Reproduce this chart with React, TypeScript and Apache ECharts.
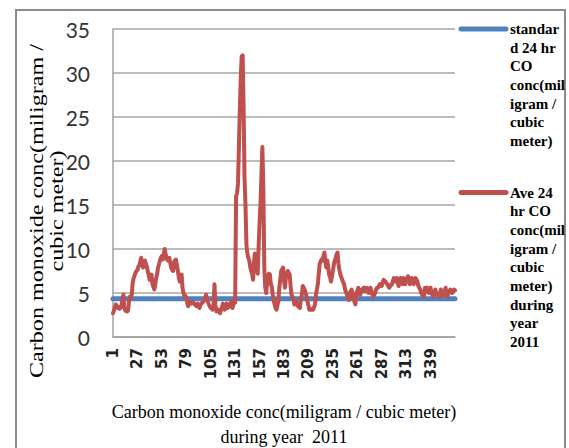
import React, { useEffect, useRef } from "react";
import * as echarts from "echarts";

const days: string[] = Array.from({ length: 365 }, (_, i) => String(i + 1));
const lastLabelIndex = 338;

const standardValue = 4.35;
const standardSeries: number[] = days.map(() => standardValue);

const aveSeries: number[] = [
  2.7, 3.0, 3.4, 3.7, 3.5, 3.3, 3.4, 3.2, 3.3, 3.6,
  4.2, 4.8, 3.4, 3.0, 3.1, 2.9, 3.0, 4.0, 4.6, 4.5,
  4.8, 6.2, 6.7, 7.0, 7.3, 7.5, 7.6, 8.0, 8.1, 8.6,
  9.0, 8.4, 7.9, 8.3, 8.7, 8.3, 8.0, 7.5, 7.0, 6.5,
  6.8, 7.1, 6.0, 5.7, 5.4, 6.0, 6.7, 7.2, 7.9, 8.3,
  8.7, 9.0, 9.2, 8.8, 9.4, 10.0, 9.4, 9.0, 8.7, 8.9,
  9.0, 8.4, 7.9, 7.6, 7.5, 8.5, 8.7, 8.8, 8.2, 7.5,
  6.8, 6.3, 6.9, 7.1, 5.6, 5.0, 4.6, 4.7, 4.4, 3.9,
  3.5, 4.0, 3.9, 3.8, 3.9, 4.0, 3.8, 3.7, 3.6, 3.5,
  3.8, 3.5, 3.3, 3.6, 3.8, 3.9, 4.0, 4.2, 4.4, 4.8,
  4.4, 4.0, 3.7, 3.5, 3.3, 3.4, 3.1, 3.5, 6.0, 3.7,
  2.9, 3.0, 3.1, 2.9, 2.7, 3.1, 3.4, 3.8, 3.4, 3.1,
  3.5, 3.8, 3.3, 3.4, 3.5, 3.8, 4.0, 3.3, 3.6, 4.2,
  3.9, 16.0, 16.3, 17.4, 21.5, 26.0, 29.5, 31.9, 32.0, 26.0,
  18.0, 15.0, 10.5, 9.5, 9.0, 8.7, 8.0, 7.5, 7.2, 6.5,
  8.5, 9.5, 8.8, 7.5, 7.2, 10.3, 13.0, 15.2, 18.5, 21.6,
  17.0, 8.0, 5.7, 5.0, 6.0, 6.8, 7.2, 7.1, 6.0, 5.7,
  4.8, 4.2, 3.7, 3.3, 3.1, 3.6, 4.0, 5.6, 6.5, 7.5,
  7.7, 7.9, 6.5, 5.6, 6.7, 7.1, 7.5, 7.3, 7.1, 5.8,
  4.8, 4.6, 4.4, 3.7, 3.9, 4.0, 3.7, 3.5, 3.4, 3.3,
  4.4, 4.8, 5.8, 5.6, 5.4, 5.0, 4.6, 4.0, 3.6, 3.1,
  3.1, 3.1, 3.2, 3.1, 3.4, 3.7, 4.8, 5.4, 6.0, 7.2,
  8.3, 8.6, 8.8, 8.7, 9.2, 9.6, 8.5, 7.9, 8.7, 8.0,
  7.1, 6.8, 6.3, 6.9, 7.5, 8.2, 8.7, 9.0, 9.4, 9.6,
  8.3, 7.6, 7.1, 6.8, 6.5, 6.2, 6.0, 5.4, 5.1, 4.8,
  4.5, 4.2, 5.0, 5.2, 5.4, 4.8, 4.4, 4.0, 3.7, 5.0,
  5.2, 5.6, 5.2, 4.8, 5.1, 5.4, 5.5, 5.6, 5.2, 5.4,
  5.6, 5.3, 5.0, 5.4, 5.6, 5.2, 4.8, 4.6, 4.8, 5.0,
  5.4, 5.6, 5.6, 5.8, 6.0, 5.9, 5.8, 6.2, 6.5, 6.4,
  6.3, 6.1, 6.0, 5.8, 5.6, 5.8, 5.9, 6.0, 6.4, 6.7,
  6.5, 6.3, 6.7, 6.2, 5.8, 6.3, 6.7, 6.3, 6.0, 6.7,
  6.4, 6.0, 6.4, 6.7, 6.9, 6.4, 6.0, 6.3, 6.7, 6.3,
  6.0, 6.4, 6.7, 6.5, 6.3, 5.8, 5.6, 5.4, 5.0, 4.8,
  4.7, 4.6, 5.6, 5.5, 5.6, 5.2, 5.0, 5.3, 5.6, 5.0,
  4.8, 4.6, 5.0, 5.4, 5.0, 4.8, 4.7, 4.6, 5.0, 5.4,
  4.6, 4.7, 4.8, 5.2, 5.6, 4.8, 4.6, 5.0, 5.2, 5.4,
  5.2, 5.0, 5.2, 5.4, 5.3,
];

const seriesNames = [
  "standard 24 hr CO conc(miligram / cubic meter)",
  "Ave 24 hr CO conc(miligram / cubic meter) during year 2011",
];
const legendLines1 = ["standar", "d 24 hr", "CO", "conc(mil", "igram /", "cubic", "meter)"];
const legendLines2 = ["Ave 24", "hr CO", "conc(mil", "igram /", "cubic", "meter)", "during", "year", "2011"];
const yAxisTitle = "Carbon monoxide conc(miligram /\ncubic meter)";
const xAxisTitle = "Carbon monoxide conc(miligram / cubic meter)\nduring year  2011";

const BLUE = "#4F81BD";
const RED = "#C0504D";

export default function App() {
  const ref = useRef<HTMLDivElement>(null);
  useEffect(() => {
    if (!ref.current) return;
    const chart = echarts.init(ref.current, undefined, { renderer: "svg" });
    const legendFont = {
      fontFamily: "'Liberation Serif', 'Times New Roman', serif",
      fontSize: 15,
      fontWeight: "bold" as const,
      fill: "#000",
      lineHeight: 18.7,
    };
    chart.setOption({
      animation: false,
      backgroundColor: "#fff",
      grid: {
        left: 113,
        right: 114,
        top: 29,
        bottom: 111,
        containLabel: false,
        outerBoundsMode: "none",
      },
      xAxis: {
        type: "category",
        data: days,
        boundaryGap: false,
        name: xAxisTitle,
        nameLocation: "middle",
        nameGap: 62,
        nameTextStyle: {
          fontFamily: "'Liberation Serif', 'Times New Roman', serif",
          fontSize: 18,
          lineHeight: 25,
          color: "#000",
        },
        axisLine: { lineStyle: { color: "#A0A0A0", width: 1.5 } },
        axisTick: { show: false },
        axisLabel: {
          interval: (index: number) => index % 26 === 0 && index <= lastLabelIndex,
          rotate: 90,
          margin: 11,
          fontFamily: "'DejaVu Sans', sans-serif",
          fontSize: 15,
          fontWeight: "bold",
          color: "#222",
        },
        splitLine: { show: false },
      },
      yAxis: {
        type: "value",
        min: 0,
        max: 35,
        interval: 5,
        axisLine: { show: true, lineStyle: { color: "#A0A0A0", width: 1.5 } },
        axisTick: { show: false },
        axisLabel: {
          margin: 23,
          fontFamily: "Lato, sans-serif",
          fontSize: 21,
          color: "#333",
        },
        splitLine: { show: true, lineStyle: { color: "#A6A6A6", width: 1.5 } },
      },
      series: [
        {
          name: seriesNames[0],
          type: "line",
          data: standardSeries,
          showSymbol: false,
          lineStyle: { color: BLUE, width: 5, cap: "round" },
          itemStyle: { color: BLUE },
          z: 2,
        },
        {
          name: seriesNames[1],
          type: "line",
          data: aveSeries,
          showSymbol: false,
          lineStyle: { color: RED, width: 4, cap: "round", join: "round" },
          itemStyle: { color: RED },
          z: 3,
        },
      ],
      graphic: [
        {
          type: "rect",
          shape: { x: 16, y: 10, width: 549, height: 460 },
          style: { fill: "none", stroke: "#8C8C8C", lineWidth: 2 },
          silent: true,
        },
        {
          type: "text",
          x: 47,
          y: 211,
          rotation: Math.PI / 2,
          scaleX: 1.34,
          style: {
            text: yAxisTitle,
            fontFamily: "'Liberation Serif', 'Times New Roman', serif",
            fontSize: 18,
            lineHeight: 20,
            fill: "#000",
            align: "center",
            verticalAlign: "middle",
          },
        },
        {
          type: "line",
          shape: { x1: 461, y1: 29, x2: 506, y2: 29 },
          style: { stroke: BLUE, lineWidth: 5, lineCap: "round" },
        },
        {
          type: "text",
          x: 510,
          y: 19.6,
          style: { ...legendFont, text: legendLines1.join("\n"), align: "left", verticalAlign: "top" },
        },
        {
          type: "line",
          shape: { x1: 461, y1: 192.5, x2: 506, y2: 192.5 },
          style: { stroke: RED, lineWidth: 5, lineCap: "round" },
        },
        {
          type: "text",
          x: 510,
          y: 183.2,
          style: { ...legendFont, text: legendLines2.join("\n"), align: "left", verticalAlign: "top" },
        },
      ],
    });
    return () => chart.dispose();
  }, []);
  return (
    <div
      ref={ref}
      style={{ position: "fixed", left: 0, top: 0, width: 569, height: 448 }}
    />
  );
}
